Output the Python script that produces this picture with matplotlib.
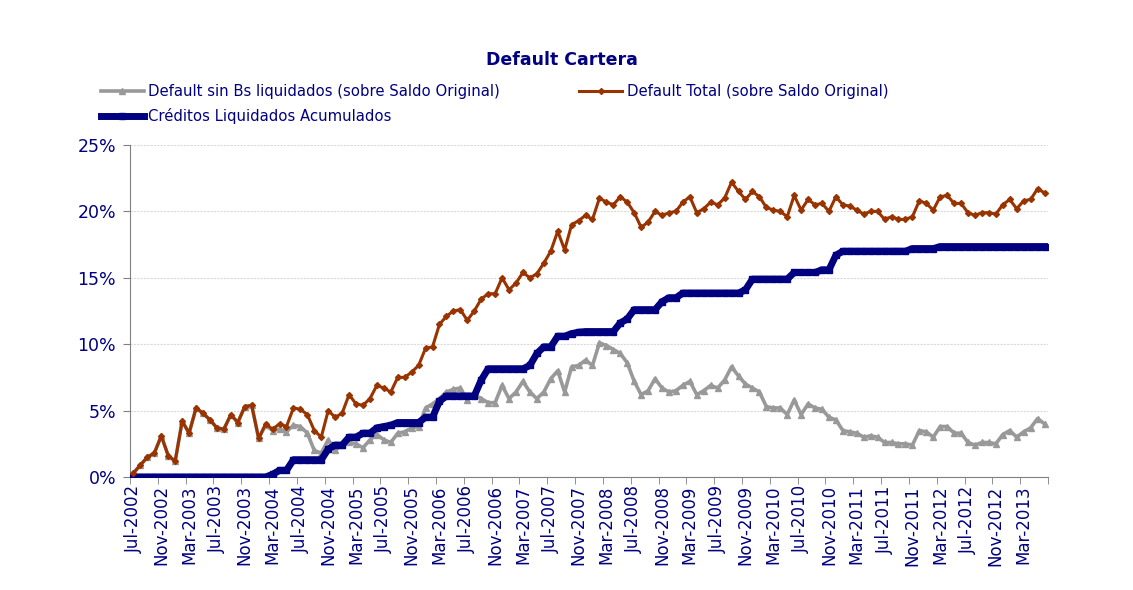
import pandas as pd
import matplotlib
matplotlib.use("Agg")
import matplotlib.pyplot as plt
from matplotlib.ticker import FixedLocator, FuncFormatter

# monthly series Jul-2002 .. Jun-2013, values in %
months = pd.date_range("2002-07-01", periods=132, freq="MS")
month_labels = [d.strftime("%b-%Y") for d in months]

default_sin_bs = [
    0.3, 0.9, 1.5, 1.8, 3.1, 1.6, 1.2, 4.2, 3.3, 5.2,
    4.8, 4.3, 3.7, 3.6, 4.7, 4.1, 5.3, 5.4, 2.9, 3.9,
    3.5, 3.6, 3.4, 3.9, 3.8, 3.3, 2.0, 1.8, 2.8, 2.0,
    2.4, 2.6, 2.5, 2.2, 2.8, 3.2, 2.8, 2.6, 3.3, 3.4,
    3.7, 3.8, 5.2, 5.5, 5.9, 6.4, 6.6, 6.7, 5.8, 6.2,
    5.9, 5.6, 5.6, 6.9, 5.9, 6.4, 7.2, 6.4, 5.9, 6.4,
    7.4, 8.0, 6.4, 8.3, 8.4, 8.8, 8.4, 10.1, 9.9, 9.6,
    9.3, 8.6, 7.2, 6.2, 6.5, 7.4, 6.7, 6.4, 6.5, 6.9,
    7.2, 6.2, 6.5, 6.9, 6.7, 7.3, 8.3, 7.6, 7.0, 6.7,
    6.4, 5.3, 5.2, 5.2, 4.7, 5.8, 4.7, 5.5, 5.2, 5.1,
    4.5, 4.3, 3.5, 3.4, 3.3, 3.0, 3.1, 3.0, 2.6, 2.6,
    2.5, 2.5, 2.4, 3.5, 3.4, 3.0, 3.8, 3.8, 3.3, 3.3,
    2.6, 2.4, 2.6, 2.6, 2.5, 3.2, 3.5, 3.0, 3.4, 3.7,
    4.4, 4.0,
]

default_total = [
    0.3, 0.9, 1.5, 1.8, 3.1, 1.6, 1.2, 4.2, 3.3, 5.2,
    4.8, 4.3, 3.7, 3.6, 4.7, 4.1, 5.3, 5.4, 2.9, 4.0,
    3.6, 4.0, 3.8, 5.2, 5.1, 4.7, 3.5, 3.0, 5.0, 4.5,
    4.8, 6.2, 5.5, 5.4, 5.9, 6.9, 6.7, 6.4, 7.5, 7.5,
    7.9, 8.4, 9.7, 9.8, 11.5, 12.1, 12.5, 12.6, 11.8, 12.5,
    13.4, 13.8, 13.8, 15.0, 14.1, 14.6, 15.4, 15.0, 15.3, 16.1,
    17.0, 18.5, 17.1, 19.0, 19.3, 19.7, 19.4, 21.0, 20.7, 20.5,
    21.1, 20.7, 19.9, 18.8, 19.2, 20.0, 19.7, 19.9, 20.0, 20.7,
    21.1, 19.9, 20.2, 20.7, 20.5, 21.0, 22.2, 21.5, 20.9, 21.5,
    21.1, 20.3, 20.1, 20.0, 19.6, 21.2, 20.1, 20.9, 20.5, 20.6,
    20.0, 21.1, 20.5, 20.4, 20.1, 19.8, 20.0, 20.0, 19.4, 19.6,
    19.4, 19.4, 19.6, 20.8, 20.6, 20.1, 21.1, 21.2, 20.6, 20.6,
    19.9, 19.7, 19.9, 19.9, 19.8, 20.5, 20.9, 20.2, 20.8, 20.9,
    21.7, 21.4,
]

creditos_liquidados = [
    0, 0, 0, 0, 0, 0, 0, 0, 0, 0,
    0, 0, 0, 0, 0, 0, 0, 0, 0, 0,
    0.2, 0.5, 0.5, 1.3, 1.3, 1.3, 1.3, 1.3, 2.1, 2.4,
    2.4, 3.0, 3.0, 3.3, 3.3, 3.7, 3.8, 3.9, 4.1, 4.1,
    4.1, 4.1, 4.5, 4.5, 5.7, 6.1, 6.1, 6.1, 6.1, 6.1,
    7.3, 8.15, 8.15, 8.15, 8.15, 8.15, 8.15, 8.4, 9.3, 9.8,
    9.8, 10.6, 10.6, 10.8, 10.9, 10.95, 10.95, 10.95, 10.95, 10.95,
    11.6, 11.9, 12.6, 12.6, 12.6, 12.6, 13.2, 13.5, 13.5, 13.85,
    13.85, 13.85, 13.85, 13.85, 13.85, 13.85, 13.85, 13.85, 14.1, 14.9,
    14.9, 14.9, 14.9, 14.9, 14.9, 15.4, 15.4, 15.4, 15.4, 15.6,
    15.6, 16.7, 17.0, 17.0, 17.0, 17.0, 17.0, 17.0, 17.0, 17.0,
    17.0, 17.0, 17.2, 17.2, 17.2, 17.2, 17.35, 17.35, 17.35, 17.35,
    17.35, 17.35, 17.35, 17.35, 17.35, 17.35, 17.35, 17.35, 17.35, 17.35,
    17.35, 17.35,
]

navy = "#000080"
x = list(range(len(months)))

fig = plt.figure(figsize=(11.33, 5.9), dpi=100)
ax = fig.add_axes([130 / 1133, 1 - 477 / 590, 918 / 1133, 332 / 590])

l_gray, = ax.plot(x, default_sin_bs, color="#999999", lw=2.6, marker="^", ms=5,
                  mec="#999999", zorder=2,
                  label="Default sin Bs liquidados (sobre Saldo Original)")
l_blue, = ax.plot(x, creditos_liquidados, color=navy, lw=5, marker="s", ms=5,
                  zorder=3, label="Créditos Liquidados Acumulados")
l_red, = ax.plot(x, default_total, color="#993300", lw=2.2, marker="D", ms=3,
                 zorder=4, label="Default Total (sobre Saldo Original)")

ax.set_xlim(-0.5, len(months) - 0.5)
ax.set_ylim(0, 25)
ax.set_yticks([0, 5, 10, 15, 20, 25])
ax.yaxis.set_major_formatter(FuncFormatter(lambda v, p: "%d%%" % v))
ax.grid(axis="y", color="#dadada", lw=0.8, ls=(0, (2, 1)))
ax.set_axisbelow(True)

ax.set_xticks(x[::4])
ax.set_xticklabels(month_labels[::4], rotation=90, ha="center", va="top")
ax.xaxis.set_minor_locator(FixedLocator([i - 0.5 for i in x[::4]] + [len(months) - 0.5]))
ax.tick_params(axis="x", which="major", length=0, pad=6, labelsize=12, labelcolor=navy)
ax.tick_params(axis="x", which="minor", length=5, color="#808080", direction="out")
ax.tick_params(axis="y", length=5, color="#808080", pad=5, labelsize=12.5, labelcolor=navy)

for s in ["top", "right"]:
    ax.spines[s].set_visible(False)
for s in ["left", "bottom"]:
    ax.spines[s].set_color("#808080")

fig.text(562 / 1133, 1 - 60 / 590, "Default Cartera", ha="center", va="center",
         fontsize=12.5, fontweight="bold", color=navy)

leg = fig.legend(handles=[l_gray, l_blue, l_red], loc="upper left", ncol=2,
                 bbox_to_anchor=(95 / 1133, 1 - 78 / 590), frameon=False,
                 fontsize=10.7, handlelength=2.9, handletextpad=0.3,
                 columnspacing=5.3, labelspacing=0.6, borderaxespad=0)
for t in leg.get_texts():
    t.set_color(navy)

fig.savefig("out.png", dpi=100)
